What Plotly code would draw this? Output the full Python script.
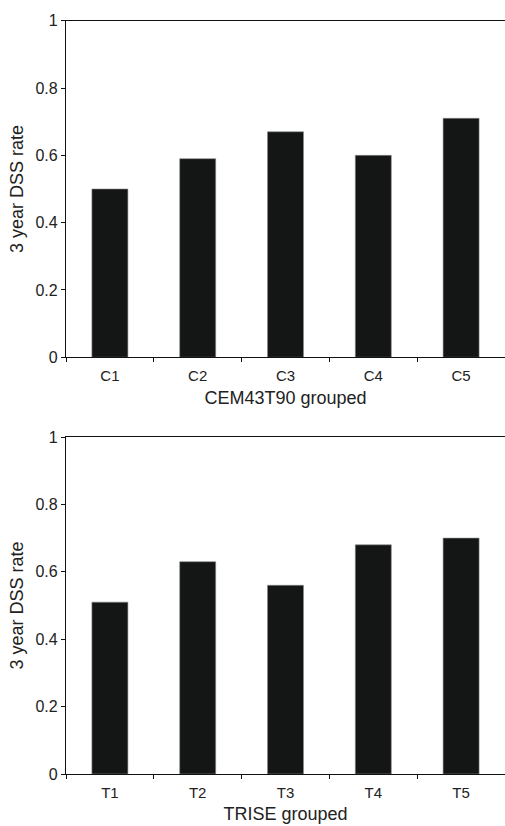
import plotly.graph_objects as go

cem_groups = ["C1", "C2", "C3", "C4", "C5"]
cem_rates = [0.50, 0.59, 0.67, 0.60, 0.71]
trise_groups = ["T1", "T2", "T3", "T4", "T5"]
trise_rates = [0.51, 0.63, 0.56, 0.68, 0.70]
y_ticks = [0, 0.2, 0.4, 0.6, 0.8, 1]
y_ticklabels = ["0", "0.2", "0.4", "0.6", "0.8", "1"]

W, H = 505, 826
bar_color = "#141515"
font_family = "Liberation Sans, Arial, sans-serif"
text_color = "#222222"

fig = go.Figure()
fig.add_trace(go.Bar(x=cem_groups, y=cem_rates, xaxis="x", yaxis="y",
                     marker=dict(color=bar_color, line=dict(color="#8a8a8a", width=0.6)),
                     width=0.41, showlegend=False))
fig.add_trace(go.Bar(x=trise_groups, y=trise_rates, xaxis="x2", yaxis="y2",
                     marker=dict(color=bar_color, line=dict(color="#8a8a8a", width=0.6)),
                     width=0.41, showlegend=False))

x_left = 66 / W
top_dom = [1 - 357.3 / H, 1 - 20.7 / H]
bot_dom = [1 - 774 / H, 1 - 437 / H]

common_x = dict(showline=True, linecolor="#111111", linewidth=1.3, mirror=True,
                ticks="outside", ticklen=4, tickcolor="#111111", tickwidth=1,
                tickson="boundaries", showgrid=False, zeroline=False,
                automargin=False, ticklabelstandoff=5,
                tickfont=dict(family=font_family, size=15, color=text_color),
                title_font=dict(family=font_family, size=18, color=text_color),
                title_standoff=7)
common_y = dict(showline=True, linecolor="#111111", linewidth=1.3,
                ticks="outside", ticklen=4, tickcolor="#111111", tickwidth=1,
                range=[0, 1], tickvals=y_ticks, ticktext=y_ticklabels,
                showgrid=False, zeroline=False, automargin=False,
                tickfont=dict(family=font_family, size=16, color=text_color),
                title_font=dict(family=font_family, size=18, color=text_color),
                title_standoff=7)

fig.update_layout(
    width=W, height=H,
    margin=dict(l=0, r=0, t=0, b=0),
    paper_bgcolor="white", plot_bgcolor="white",
    bargap=0.59,
    xaxis=dict(domain=[x_left, 1], anchor="y", title_text="CEM43T90 grouped", **common_x),
    yaxis=dict(domain=top_dom, anchor="x", title_text="3 year DSS rate", **common_y),
    xaxis2=dict(domain=[x_left, 1], anchor="y2", title_text="TRISE grouped", **common_x),
    yaxis2=dict(domain=bot_dom, anchor="x2", title_text="3 year DSS rate", **common_y),
)

fig.write_html("out.html")
